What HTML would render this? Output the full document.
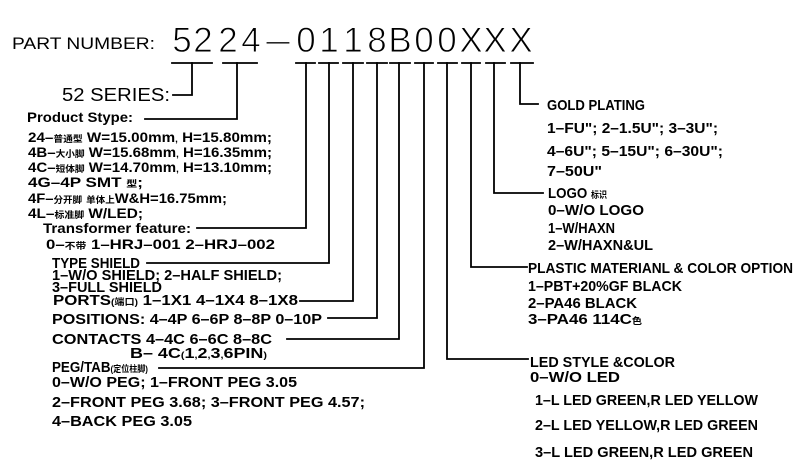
<!DOCTYPE html>
<html>
<head>
<meta charset="utf-8">
<style>
html,body{margin:0;padding:0;background:#fff;}
svg{display:block;}
text{font-family:"Liberation Sans","Noto Sans CJK SC",sans-serif;fill:#000;}
.b{font-weight:bold;}
.c{font-size:9px;font-weight:bold;}
.big{stroke:#fff;stroke-width:0.9;}
</style>
</head>
<body>
<svg width="800" height="468" viewBox="0 0 800 468" xmlns="http://www.w3.org/2000/svg">
<rect x="0" y="0" width="800" height="468" fill="#fff"/>

<!-- underlines & connectors -->
<g stroke="#000" stroke-width="1.8" fill="none" stroke-linecap="square">
<path d="M172 63H212 M223 63H257 M296 63H315 M319 63H338 M343 63H363 M367 63H387 M390 63H410 M415 63H433 M438 63H457 M462 63H480 M486 63H505 M511 63H533"/>
<path d="M192 63V95H173"/>
<path d="M237 63V119H145"/>
<path d="M306 63V228H197"/>
<path d="M329 63V263H147"/>
<path d="M353 63V301H300"/>
<path d="M377 63V318H328"/>
<path d="M399 63V339H287"/>
<path d="M424 63V368H159"/>
<path d="M447 63V359H528"/>
<path d="M471 63V267H527"/>
<path d="M494 63V193H543"/>
<path d="M520 63V104H538"/>
</g>

<!-- header -->
<text x="12" y="49" font-size="17" textLength="143" lengthAdjust="spacingAndGlyphs">PART  NUMBER:</text>
<g font-size="35" text-anchor="middle" class="big">
<text x="182" y="52">5</text>
<text x="203" y="52">2</text>
<text x="228" y="52">2</text>
<text x="251" y="52">4</text>
<text x="306" y="52">0</text>
<text x="329" y="52">1</text>
<text x="353" y="52">1</text>
<text x="377" y="52">8</text>
<text x="400" y="52">B</text>
<text x="424" y="52">0</text>
<text x="447" y="52">0</text>
<text x="471" y="52">X</text>
<text x="495" y="52">X</text>
<text x="521" y="52">X</text>
</g>
<text x="266" y="52" font-size="35" class="big" textLength="24" lengthAdjust="spacingAndGlyphs">–</text>

<text x="62" y="101" font-size="18" textLength="108" lengthAdjust="spacingAndGlyphs">52  SERIES:</text>
<text x="27" y="122" font-size="14" class="b" textLength="106" lengthAdjust="spacingAndGlyphs">Product  Stype:</text>

<!-- product list -->
<g font-size="14" class="b">
<text x="28" y="142" textLength="244" lengthAdjust="spacingAndGlyphs">24–<tspan class="c">普通型</tspan>  W=15.00mm<tspan class="c">,</tspan> H=15.80mm;</text>
<text x="28" y="157" textLength="244" lengthAdjust="spacingAndGlyphs">4B–<tspan class="c">大小脚</tspan>  W=15.68mm<tspan class="c">,</tspan> H=16.35mm;</text>
<text x="28" y="172" textLength="244" lengthAdjust="spacingAndGlyphs">4C–<tspan class="c">短体脚</tspan>  W=14.70mm<tspan class="c">,</tspan> H=13.10mm;</text>
<text x="28" y="187" textLength="115" lengthAdjust="spacingAndGlyphs">4G–4P  SMT  <tspan class="c">型</tspan>;</text>
<text x="28" y="203" textLength="199" lengthAdjust="spacingAndGlyphs">4F–<tspan class="c">分开脚</tspan>    <tspan class="c">单体上</tspan>W&amp;H=16.75mm;</text>
<text x="28" y="218" textLength="115" lengthAdjust="spacingAndGlyphs">4L–<tspan class="c">标准脚</tspan>    W/LED;</text>
<text x="43" y="233" textLength="148" lengthAdjust="spacingAndGlyphs">Transformer  feature:</text>
<text x="46" y="249" textLength="229" lengthAdjust="spacingAndGlyphs">0–<tspan class="c">不带</tspan>  1–HRJ–001  2–HRJ–002</text>
</g>

<!-- lower left -->
<g font-size="15" class="b">
<text x="52" y="268" textLength="88" lengthAdjust="spacingAndGlyphs">TYPE  SHIELD</text>
<text x="52" y="280" textLength="230" lengthAdjust="spacingAndGlyphs">1–W/O  SHIELD; 2–HALF  SHIELD;</text>
<text x="52" y="292" textLength="110" lengthAdjust="spacingAndGlyphs">3–FULL  SHIELD</text>
<text x="53" y="305" textLength="245" lengthAdjust="spacingAndGlyphs">PORTS<tspan class="c">(端口)</tspan>  1–1X1    4–1X4    8–1X8</text>
<text x="52" y="324" textLength="270" lengthAdjust="spacingAndGlyphs">POSITIONS: 4–4P    6–6P   8–8P  0–10P</text>
<text x="52" y="344" textLength="220" lengthAdjust="spacingAndGlyphs">CONTACTS  4–4C    6–6C   8–8C</text>
<text x="130" y="358" textLength="137" lengthAdjust="spacingAndGlyphs">B–   4C<tspan class="c">(</tspan>1<tspan class="c">,</tspan>2<tspan class="c">,</tspan>3<tspan class="c">,</tspan>6PIN<tspan class="c">)</tspan></text>
<text x="52" y="372" textLength="96" lengthAdjust="spacingAndGlyphs">PEG/TAB<tspan class="c">(定位柱脚)</tspan></text>
<text x="52" y="387" textLength="245" lengthAdjust="spacingAndGlyphs">0–W/O  PEG; 1–FRONT    PEG  3.05</text>
<text x="52" y="407" textLength="313" lengthAdjust="spacingAndGlyphs">2–FRONT    PEG  3.68; 3–FRONT    PEG  4.57;</text>
<text x="52" y="426" textLength="140" lengthAdjust="spacingAndGlyphs">4–BACK    PEG  3.05</text>
</g>

<!-- right side -->
<g font-size="15" class="b">
<text x="547" y="110" textLength="98" lengthAdjust="spacingAndGlyphs">GOLD  PLATING</text>
<text x="547" y="133" textLength="171" lengthAdjust="spacingAndGlyphs">1–FU"; 2–1.5U"; 3–3U";</text>
<text x="547" y="156" textLength="176" lengthAdjust="spacingAndGlyphs">4–6U"; 5–15U"; 6–30U";</text>
<text x="547" y="176" textLength="55" lengthAdjust="spacingAndGlyphs">7–50U"</text>
<text x="548" y="198" textLength="59" lengthAdjust="spacingAndGlyphs">LOGO  <tspan class="c">标识</tspan></text>
<text x="548" y="215" textLength="96" lengthAdjust="spacingAndGlyphs">0–W/O  LOGO</text>
<text x="548" y="233" textLength="67" lengthAdjust="spacingAndGlyphs">1–W/HAXN</text>
<text x="548" y="250" textLength="105" lengthAdjust="spacingAndGlyphs">2–W/HAXN&amp;UL</text>
<text x="528" y="273" textLength="265" lengthAdjust="spacingAndGlyphs">PLASTIC  MATERIANL  &amp;  COLOR  OPTION</text>
<text x="528" y="291" textLength="154" lengthAdjust="spacingAndGlyphs">1–PBT+20%GF  BLACK</text>
<text x="528" y="308" textLength="109" lengthAdjust="spacingAndGlyphs">2–PA46  BLACK</text>
<text x="528" y="324" textLength="114" lengthAdjust="spacingAndGlyphs">3–PA46  114C<tspan class="c">色</tspan></text>
<text x="530" y="367" textLength="145" lengthAdjust="spacingAndGlyphs">LED  STYLE  &amp;COLOR</text>
<text x="530" y="382" textLength="90" lengthAdjust="spacingAndGlyphs">0–W/O  LED</text>
<text x="535" y="405" textLength="223" lengthAdjust="spacingAndGlyphs">1–L  LED  GREEN,R  LED  YELLOW</text>
<text x="535" y="430" textLength="223" lengthAdjust="spacingAndGlyphs">2–L  LED  YELLOW,R  LED  GREEN</text>
<text x="535" y="457" textLength="218" lengthAdjust="spacingAndGlyphs">3–L  LED  GREEN,R  LED  GREEN</text>
</g>
</svg>
</body>
</html>
